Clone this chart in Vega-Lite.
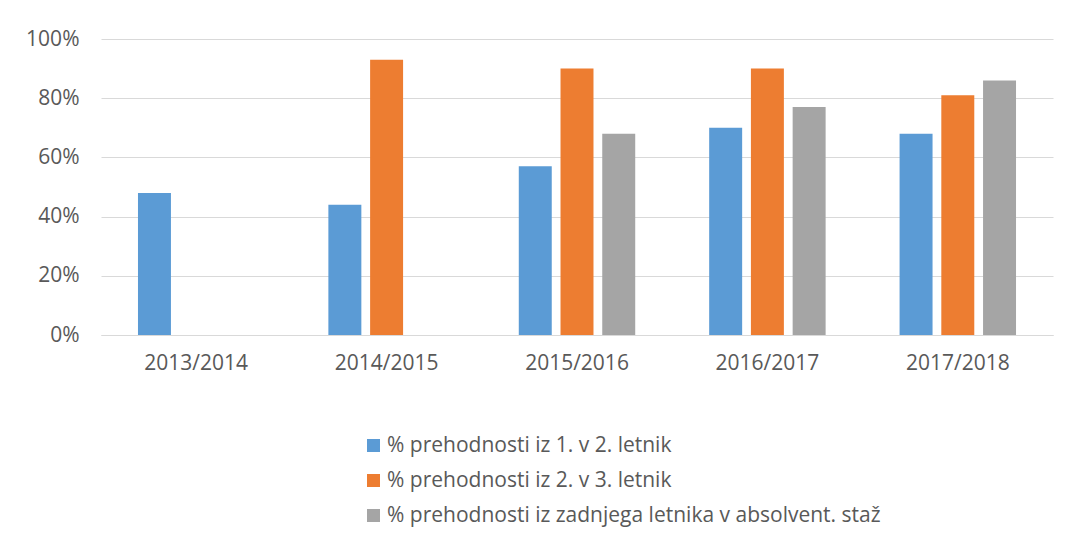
{
  "$schema": "https://vega.github.io/schema/vega-lite/v6.json",
  "autosize": {"type": "none"},
  "width": 952,
  "height": 296,
  "padding": {"left": 101, "top": 39, "right": 16, "bottom": 201},
  "background": "white",
  "config": {
    "font": "Open Sans",
    "view": {"stroke": null},
    "axis": {"labelColor": "#595959", "labelFont": "Open Sans", "labelFontSize": 21}
  },
  "data": {
    "values": [
      {"leto": "2013/2014", "serija": "% prehodnosti iz 1. v 2. letnik", "vrednost": 0.48},
      {"leto": "2014/2015", "serija": "% prehodnosti iz 1. v 2. letnik", "vrednost": 0.44},
      {"leto": "2014/2015", "serija": "% prehodnosti iz 2. v 3. letnik", "vrednost": 0.93},
      {"leto": "2015/2016", "serija": "% prehodnosti iz 1. v 2. letnik", "vrednost": 0.57},
      {"leto": "2015/2016", "serija": "% prehodnosti iz 2. v 3. letnik", "vrednost": 0.90},
      {"leto": "2015/2016", "serija": "% prehodnosti iz zadnjega letnika v absolvent. staž", "vrednost": 0.68},
      {"leto": "2016/2017", "serija": "% prehodnosti iz 1. v 2. letnik", "vrednost": 0.70},
      {"leto": "2016/2017", "serija": "% prehodnosti iz 2. v 3. letnik", "vrednost": 0.90},
      {"leto": "2016/2017", "serija": "% prehodnosti iz zadnjega letnika v absolvent. staž", "vrednost": 0.77},
      {"leto": "2017/2018", "serija": "% prehodnosti iz 1. v 2. letnik", "vrednost": 0.68},
      {"leto": "2017/2018", "serija": "% prehodnosti iz 2. v 3. letnik", "vrednost": 0.81},
      {"leto": "2017/2018", "serija": "% prehodnosti iz zadnjega letnika v absolvent. staž", "vrednost": 0.86}
    ]
  },
  "mark": {"type": "bar"},
  "encoding": {
    "x": {
      "field": "leto", "type": "nominal", "title": null,
      "scale": {"paddingInner": 0, "paddingOuter": 0},
      "axis": {"labelAngle": 0, "ticks": false, "domain": true, "domainColor": "#d9d9d9", "domainWidth": 1, "labelPadding": 17, "grid": false}
    },
    "xOffset": {
      "field": "serija", "type": "nominal",
      "sort": ["% prehodnosti iz 1. v 2. letnik", "% prehodnosti iz 2. v 3. letnik", "% prehodnosti iz zadnjega letnika v absolvent. staž"],
      "scale": {"paddingInner": 0.21, "paddingOuter": 0.886}
    },
    "y": {
      "field": "vrednost", "type": "quantitative", "title": null,
      "scale": {"domain": [0, 1]},
      "axis": {"format": ".0%", "values": [0, 0.2, 0.4, 0.6, 0.8, 1], "ticks": false, "domain": false, "gridColor": "#d9d9d9", "gridWidth": 1, "labelPadding": 22}
    },
    "color": {
      "field": "serija", "type": "nominal",
      "sort": ["% prehodnosti iz 1. v 2. letnik", "% prehodnosti iz 2. v 3. letnik", "% prehodnosti iz zadnjega letnika v absolvent. staž"],
      "scale": {"range": ["#5B9BD5", "#ED7D31", "#A5A5A5"]},
      "legend": {
        "title": null, "orient": "none", "legendX": 262, "legendY": 396,
        "direction": "vertical", "symbolType": "square", "symbolSize": 169, "symbolStrokeWidth": 0,
        "labelFontSize": 21, "labelColor": "#595959", "labelFont": "Open Sans", "labelLimit": 700,
        "rowPadding": 13, "labelOffset": 3
      }
    }
  }
}
